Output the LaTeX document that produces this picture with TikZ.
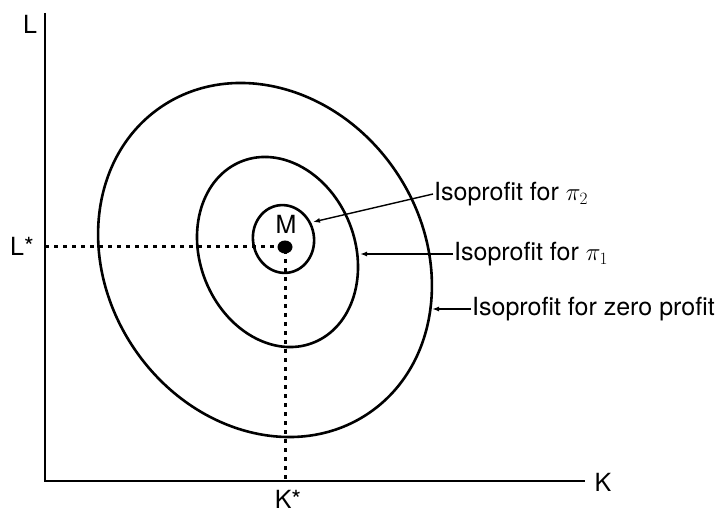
\documentclass[tikz,border=0pt]{standalone}
\usepackage{fontspec}
\setmainfont{TeX Gyre Heros}
\usepackage{tikz}
\usetikzlibrary{arrows.meta,positioning,calc}

\begin{document}
\begin{tikzpicture}[x=1pt, y=1pt,
    axis/.style={line width=2.6pt},
    curve/.style={line width=2.6pt},
    guide/.style={line width=3pt, dash pattern=on 4pt off 5pt},
    pointer/.style={line width=1.4pt, -{Latex[length=7pt,width=5pt]}},
    lbl/.style={font=\fontsize{25}{29}\selectfont, inner sep=1pt}]
            \useasboundingbox (0,0) rectangle (719,514);

            % Axes
            \coordinate (O) at (45,33);
            \coordinate (ytop) at (45,501);
            \coordinate (xend) at (585,33);
            \draw[axis] (ytop) -- (O) -- (xend);
            \node[lbl] (L) at (30,490) {L};
            \node[lbl] (K) at (603,32) {K};

            % Optimum
            \coordinate (M) at (285,267);
            \coordinate (Lax) at (45,267);
            \coordinate (Kax) at (285,33);
            \draw[guide] (Lax) -- (M) -- (Kax);
            \fill (M) ellipse [x radius=7.5, y radius=6.5];
            \node[lbl] (Mlbl) at (286,290) {M};
            \node[lbl] (Lstar) at (22,268) {L*};
            \node[lbl, anchor=north] (Kstar) at (288,25) {K*};

            % Isoprofit curves
            \draw[curve] (283.5,275) ellipse [x radius=30.5, y radius=34, rotate=10];
            \draw[curve] (277.5,262) ellipse [x radius=77.5, y radius=97.5, rotate=21.6];
            \draw[curve] (265,254) ellipse [x radius=158, y radius=185, rotate=34];

            % Labels
            \node[lbl, anchor=west] (pi2) at (433,320) {Isoprofit for $\pi_2$};
            \node[lbl, anchor=west] (pi1) at (453,260) {Isoprofit for $\pi_1$};
            \node[lbl, anchor=west] (pi0) at (471,205) {Isoprofit for zero profit};
            \coordinate (tip2) at (313,292);
            \coordinate (tip1) at (360,260);
            \coordinate (tip0) at (432,205);
            \draw[pointer] (pi2.west) -- (tip2);
            \draw[pointer] (pi1.west) -- (tip1);
            \draw[pointer] (pi0.west) -- (tip0);
        \end{tikzpicture}
\end{document}
